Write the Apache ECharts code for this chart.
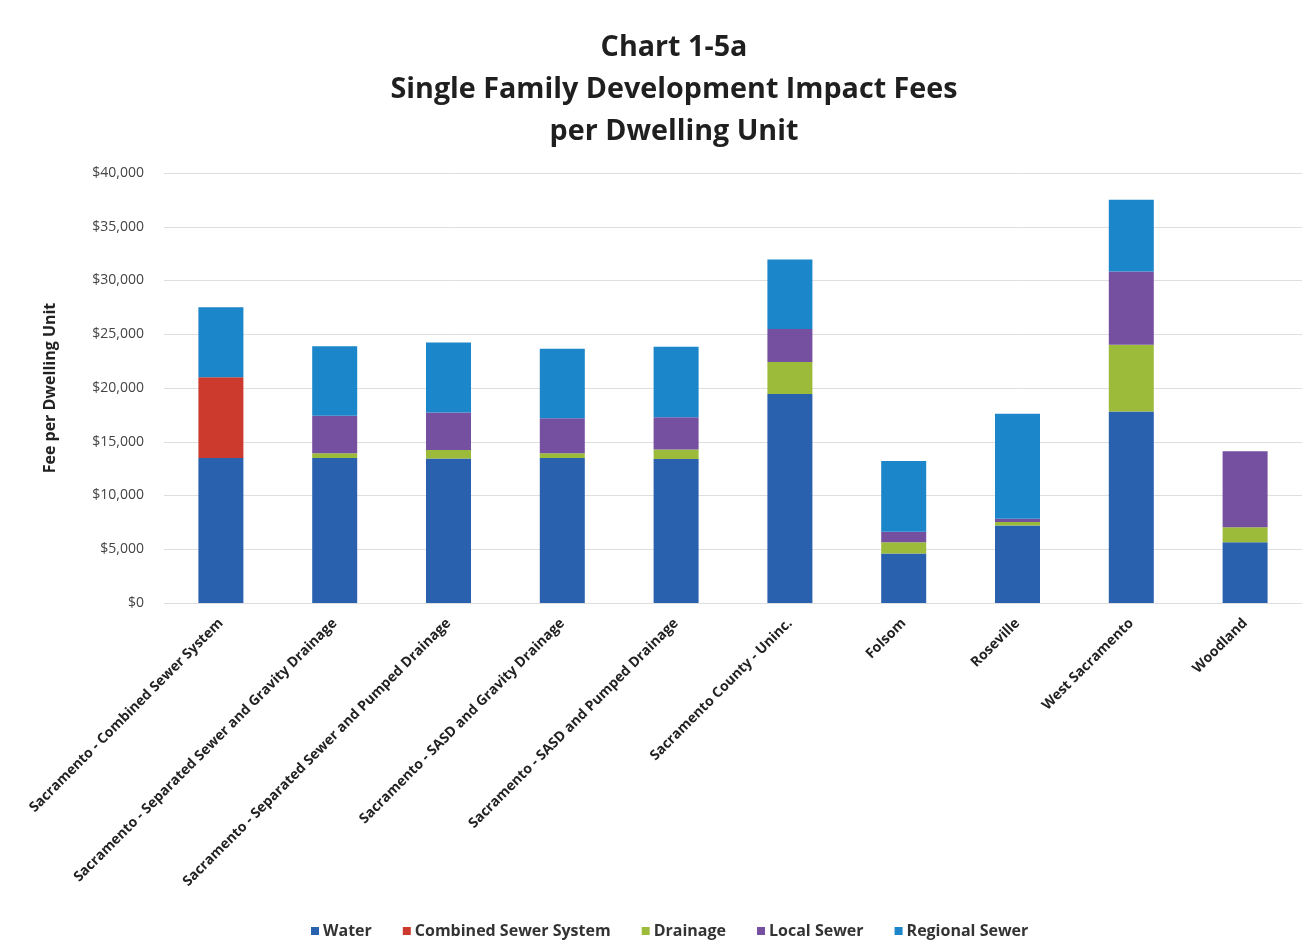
<!DOCTYPE html>
<html>
<head>
<meta charset="utf-8">
<title>Single Family Development Impact Fees</title>
<script src="https://cdn.jsdelivr.net/npm/echarts@6/dist/echarts.min.js"></script>
<style>
  html, body { margin: 0; padding: 0; background: #ffffff; }
  #chart { width: 1306px; height: 942px; }
</style>
</head>
<body>
<div id="chart"></div>
<script>
// Jurisdictions / fee scenarios along the x axis
const categories = [
  'Sacramento - Combined Sewer System',
  'Sacramento - Separated Sewer and Gravity Drainage',
  'Sacramento - Separated Sewer and Pumped Drainage',
  'Sacramento - SASD and Gravity Drainage',
  'Sacramento - SASD and Pumped Drainage',
  'Sacramento County - Uninc.',
  'Folsom',
  'Roseville',
  'West Sacramento',
  'Woodland'
];

// Fee components, dollars per dwelling unit
const water          = [13500, 13500, 13450, 13500, 13400, 19450, 4600, 7220, 17820, 5640];
const combinedSewer  = [7500, 0, 0, 0, 0, 0, 0, 0, 0, 0];
const drainage       = [0, 430, 780, 430, 870, 2980, 1060, 310, 6200, 1400];
const localSewer     = [0, 3500, 3500, 3260, 3000, 3070, 960, 310, 6820, 7070];
const regionalSewer  = [6510, 6450, 6510, 6460, 6570, 6450, 6580, 9770, 6670, 0];

const yTicks = [0, 5000, 10000, 15000, 20000, 25000, 30000, 35000, 40000];

const FONT = '"Open Sans"';

const seriesDefs = [
  { name: 'Water', data: water, color: '#2a61af' },
  { name: 'Combined Sewer System', data: combinedSewer, color: '#cc3a2d' },
  { name: 'Drainage', data: drainage, color: '#9dbb3a' },
  { name: 'Local Sewer', data: localSewer, color: '#7650a0' },
  { name: 'Regional Sewer', data: regionalSewer, color: '#1b86c9' }
];

const chart = echarts.init(document.getElementById('chart'), null, { renderer: 'canvas' });

chart.setOption({
  backgroundColor: '#ffffff',
  animation: false,
  title: {
    text: 'Chart 1-5a\nSingle Family Development Impact Fees\nper Dwelling Unit',
    left: 669,
    top: 22,
    textAlign: 'center',
    textStyle: {
      fontFamily: FONT,
      fontWeight: 'bold',
      fontSize: 28.7,
      lineHeight: 42,
      color: '#1f1f1f'
    }
  },
  legend: {
    data: seriesDefs.map(s => s.name),
    left: 306,
    top: 918,
    icon: 'rect',
    itemWidth: 8,
    itemHeight: 8,
    itemGap: 31,
    textStyle: {
      fontFamily: FONT,
      fontWeight: 'bold',
      fontSize: 16,
      color: '#333333',
      padding: [0, 0, 0, -1]
    }
  },
  grid: {
    left: 164,
    right: 4,
    top: 173,
    height: 430,
    containLabel: false
  },
  xAxis: {
    type: 'category',
    data: categories,
    axisLine: { show: false },
    axisTick: { show: false },
    axisLabel: {
      rotate: 45,
      interval: 0,
      margin: 18,
      fontFamily: FONT,
      fontWeight: 'bold',
      fontSize: 14,
      color: '#222222'
    }
  },
  yAxis: {
    type: 'value',
    min: yTicks[0],
    max: yTicks[yTicks.length - 1],
    interval: yTicks[1] - yTicks[0],
    name: 'Fee per Dwelling Unit',
    nameLocation: 'middle',
    nameGap: 106,
    nameRotate: 90,
    nameTextStyle: {
      fontFamily: FONT,
      fontWeight: 'bold',
      fontSize: 16,
      color: '#222222'
    },
    axisLine: { show: false },
    axisTick: { show: false },
    splitLine: { lineStyle: { color: '#dedede', width: 1 } },
    axisLabel: {
      margin: 20,
      fontFamily: FONT,
      fontSize: 14,
      color: '#444444',
      formatter: v => '$' + v.toLocaleString('en-US')
    }
  },
  series: seriesDefs.map(s => ({
    name: s.name,
    type: 'bar',
    stack: 'fees',
    data: s.data,
    barWidth: 45,
    itemStyle: { color: s.color },
    emphasis: { disabled: true }
  }))
});
</script>
</body>
</html>
